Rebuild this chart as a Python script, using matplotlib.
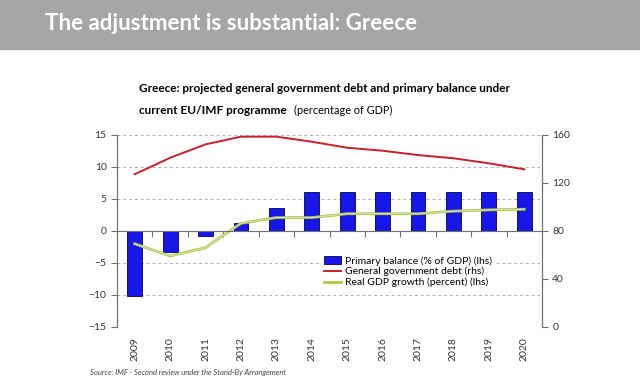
import matplotlib.pyplot as plt
from matplotlib.patches import Rectangle
import numpy as np

# Dane
years = [2009, 2010, 2011, 2012, 2013, 2014, 2015, 2016, 2017, 2018, 2019, 2020]
primary_balance = [-10.1, -3.3, -0.8, 1.2, 3.6, 6.1, 6.1, 6.1, 6.1, 6.1, 6.1, 6.1]
debt = [127.3, 141.0, 152.2, 158.6, 158.6, 154.4, 149.4, 146.9, 143.3, 140.6, 136.4, 131.4]
gdp_growth = [-2.0, -3.9, -2.6, 1.2, 2.1, 2.1, 2.7, 2.7, 2.7, 3.1, 3.3, 3.4]

left_ticks = [-15, -10, -5, 0, 5, 10, 15]
right_ticks = [0, 40, 80, 120, 160]

plt.rcParams['font.family'] = ['Lato', 'DejaVu Sans']

fig = plt.figure(figsize=(6.4, 3.82), dpi=100)

# Szary pasek z tytułem
fig.patches.append(Rectangle((0, 1 - 49 / 382), 1, 49 / 382, transform=fig.transFigure,
                             color='#a6a6a6', zorder=0))
fig.text(45 / 640, 1 - 24 / 382, 'The adjustment is substantial: Greece', color='white',
         fontsize=16, fontweight='bold', va='center', ha='left')

fig.text(139 / 640, 1 - 89 / 382,
         'Greece: projected general government debt and primary balance under',
         fontsize=8.5, fontweight='bold', va='center', ha='left')
t = fig.text(139 / 640, 1 - 110 / 382, 'current EU/IMF programme', fontsize=8.5,
             fontweight='bold', va='center', ha='left')
renderer = fig.canvas.get_renderer()
bb = t.get_window_extent(renderer)
fig.text((bb.x1 + 7) / 640, 1 - 110 / 382, '(percentage of GDP)', fontsize=7.8,
         va='center', ha='left')

ax = fig.add_axes([117 / 640, 1 - 327 / 382, 425 / 640, 192 / 382])
ax2 = ax.twinx()

x = np.arange(len(years))
bars = ax.bar(x, primary_balance, width=0.42, color='#1717e8', edgecolor='#00005a',
              linewidth=0.6, zorder=3, label='Primary balance (% of GDP) (lhs)')
gdp_line, = ax.plot(x, gdp_growth, color='#b2c83a', linewidth=2, zorder=4,
                    label='Real GDP growth (percent) (lhs)')
ax.plot(x, gdp_growth, color='#d6e6ee', linewidth=0.6, zorder=5)
debt_line, = ax2.plot(x, debt, color='#c8202a', linewidth=1.4,
                      label='General government debt (rhs)')

ax.set_xlim(-0.5, len(years) - 0.5)
ax.set_ylim(-15, 15)
ax2.set_ylim(0, 160)
ax.set_yticks(left_ticks)
ax2.set_yticks(right_ticks)

# Siatka
for v in left_ticks:
    if v != 0:
        ax.axhline(v, color='#b0b0b0', linestyle=(0, (3, 3)), linewidth=0.7, zorder=1)

for a in (ax, ax2):
    a.spines['top'].set_visible(False)
    a.spines['left'].set_color('#707070')
    a.spines['right'].set_color('#707070')
    a.tick_params(axis='y', colors='#707070', labelcolor='#333333', labelsize=7.5,
                  length=4, width=0.8)
ax2.spines['bottom'].set_visible(False)
ax.spines['bottom'].set_position(('data', 0))
ax.spines['bottom'].set_color('#707070')
ax.spines['bottom'].set_zorder(6)
ax.set_xticks(np.arange(0.5, len(years) - 0.5, 1))
ax.set_xticklabels([])
ax.tick_params(axis='x', colors='#707070', length=4, width=0.8)

for i, yr in enumerate(years):
    ax.text(i, -0.055, str(yr), rotation=90, ha='center', va='top', fontsize=7.5,
            color='#333333', transform=ax.get_xaxis_transform())

ax2.set_zorder(ax.get_zorder() + 1)
ax2.patch.set_visible(False)

leg = ax2.legend([bars, debt_line, gdp_line],
                 [bars.get_label(), debt_line.get_label(), gdp_line.get_label()],
                 loc='upper left', bbox_to_anchor=(322 / 640, 1 - 254 / 382),
                 bbox_transform=fig.transFigure, frameon=True, fontsize=7.5,
                 handlelength=1.6, handletextpad=0.4, labelspacing=0.12,
                 borderpad=0.2, borderaxespad=0)
leg.get_frame().set_edgecolor('none')
leg.get_frame().set_facecolor('white')
leg.get_frame().set_alpha(1)

fig.text(90 / 640, 1 - 373 / 382,
         'Source: IMF - Second review under the Stand-By Arrangement',
         fontsize=5.5, style='italic', color='#444444', va='center', ha='left')

plt.savefig('out.png', dpi=100)
